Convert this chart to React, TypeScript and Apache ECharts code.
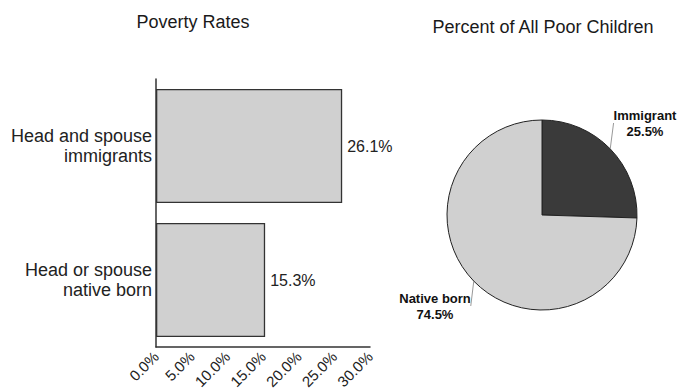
import React, { useEffect, useRef } from "react";
import * as echarts from "echarts";

const barCategories = ["Head or spouse\nnative born", "Head and spouse\nimmigrants"];
const barValues = [15.3, 26.1];
const xTicks = [0, 5, 10, 15, 20, 25, 30];

const pieNames = ["Immigrant", "Native born"];
const pieValues = [25.5, 74.5];

const FONT = "'Liberation Sans', Arial, sans-serif";

export default function App() {
  const ref = useRef<HTMLDivElement>(null);
  useEffect(() => {
    if (!ref.current) return;
    const chart = echarts.init(ref.current, null, { renderer: "svg" });
    const option: any = {
      animation: false,
      backgroundColor: "#ffffff",
      textStyle: { fontFamily: FONT },
      title: [
        {
          text: "Poverty Rates",
          left: 193,
          top: 13,
          padding: 0,
          textAlign: "center",
          textStyle: { fontFamily: FONT, fontSize: 18, fontWeight: "normal", color: "#1a1a1a" },
        },
        {
          text: "Percent of All Poor Children",
          left: 543,
          top: 18,
          padding: 0,
          textAlign: "center",
          textStyle: { fontFamily: FONT, fontSize: 18, fontWeight: "normal", color: "#1a1a1a" },
        },
      ],
      grid: { left: 156, top: 79, width: 214, height: 268, containLabel: false },
      xAxis: {
        type: "value",
        min: xTicks[0],
        max: xTicks[xTicks.length - 1],
        interval: 5,
        splitLine: { show: false },
        axisTick: { show: false },
        axisLine: { show: true, lineStyle: { color: "#333", width: 1.5 } },
        axisLabel: {
          rotate: 45,
          margin: 7,
          fontSize: 15,
          color: "#222",
          fontFamily: FONT,
          formatter: (v: number) => v.toFixed(1) + "%",
        },
      },
      yAxis: {
        type: "category",
        data: barCategories,
        axisTick: { show: false },
        axisLine: { show: true, lineStyle: { color: "#333", width: 1.5 } },
        axisLabel: {
          fontSize: 18,
          lineHeight: 20,
          color: "#222",
          margin: 4,
          fontFamily: FONT,
          align: "right",
        },
      },
      series: [
        {
          type: "bar",
          data: barValues,
          barCategoryGap: "15%",
          itemStyle: { color: "#d0d0d0", borderColor: "#333", borderWidth: 1.3 },
          label: {
            show: true,
            position: "right",
            distance: 5,
            fontSize: 16,
            color: "#222",
            fontFamily: FONT,
            formatter: (p: any) => p.value.toFixed(1) + "%",
          },
        },
        {
          type: "pie",
          center: [542, 215],
          radius: 95,
          startAngle: 90,
          clockwise: true,
          data: pieNames.map((n, i) => ({
            name: n,
            value: pieValues[i],
            itemStyle: { color: i === 0 ? "#3a3a3a" : "#d0d0d0" },
          })),
          itemStyle: { borderColor: "#222", borderWidth: 1 },
          label: {
            show: true,
            position: "outside",
            overflow: "none",
            alignTo: "none",
            formatter: (p: any) => p.name + "\n" + p.value.toFixed(1) + "%",
            fontSize: 13,
            fontWeight: "bold",
            lineHeight: 16,
            color: "#111",
            fontFamily: FONT,
            align: "center",
          },
          labelLine: { show: true, length: 10, length2: 0, lineStyle: { color: "#999", width: 1 } },
          labelLayout: (params: any) => {
            if (params.dataIndex === 0) {
              return { x: 645, y: 123, align: "center", verticalAlign: "middle" };
            }
            return { x: 435, y: 306, align: "center", verticalAlign: "middle" };
          },
        },
      ],
    };
    chart.setOption(option);
    return () => chart.dispose();
  }, []);
  return (
    <div
      ref={ref}
      style={{ position: "fixed", left: 0, top: 0, width: 678, height: 392, background: "#fff" }}
    />
  );
}
